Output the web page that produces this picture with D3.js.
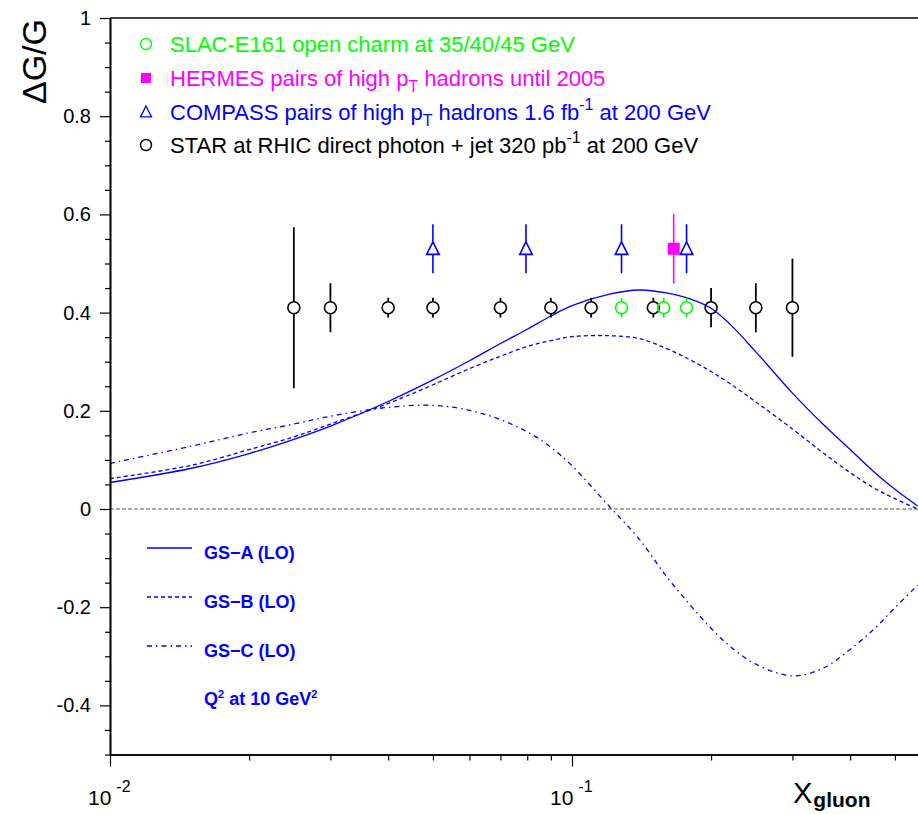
<!DOCTYPE html>
<html><head><meta charset="utf-8">
<script src="https://cdn.jsdelivr.net/npm/d3@7"></script>
<style>
body{margin:0;background:#fff}
svg{display:block;background:#fff}
text{font-family:"Liberation Sans",Arial,Helvetica,sans-serif}
</style>
</head><body>
<svg id="chart" width="918" height="814"></svg>
<script>
// ---------------- data ----------------
const starX   = [0.025, 0.03, 0.04, 0.05, 0.07, 0.09, 0.11, 0.15, 0.2, 0.25, 0.3];
const starY   = [0.41, 0.41, 0.41, 0.41, 0.41, 0.41, 0.41, 0.41, 0.41, 0.41, 0.41];
const starErr = [0.164, 0.05, 0.02, 0.02, 0.02, 0.02, 0.02, 0.02, 0.04, 0.05, 0.10];

const slacX   = [0.128, 0.158, 0.177];
const slacY   = [0.41, 0.41, 0.41];
const slacErr = [0.02, 0.02, 0.02];

const compassX   = [0.05, 0.0795, 0.128, 0.177];
const compassY   = [0.53, 0.53, 0.53, 0.53];
const compassErr = [0.05, 0.05, 0.05, 0.05];

const hermesX   = [0.166];
const hermesY   = [0.53];
const hermesErr = [0.071];

const curveX = [0.01, 0.015, 0.02, 0.025, 0.03, 0.04, 0.05, 0.06, 0.07, 0.08, 0.09, 0.1,
                0.12, 0.14, 0.16, 0.18, 0.2, 0.22, 0.25, 0.3, 0.35, 0.4, 0.45, 0.5, 0.56];
const gsA = [0.054, 0.083, 0.113, 0.142, 0.169, 0.219, 0.263, 0.302, 0.337, 0.366, 0.393, 0.414,
             0.437, 0.446, 0.440, 0.428, 0.409, 0.376, 0.320, 0.236, 0.172, 0.121, 0.076, 0.040, 0.006];
const gsB = [0.062, 0.089, 0.121, 0.147, 0.173, 0.215, 0.253, 0.286, 0.311, 0.331, 0.343, 0.351,
             0.353, 0.347, 0.327, 0.304, 0.280, 0.255, 0.218, 0.163, 0.114, 0.074, 0.043, 0.021, 0.0];
const gsC = [0.093, 0.128, 0.155, 0.173, 0.189, 0.207, 0.211, 0.201, 0.182, 0.157, 0.126, 0.088,
             0.007, -0.062, -0.137, -0.195, -0.243, -0.280, -0.316, -0.340, -0.324, -0.286, -0.245, -0.201, -0.155];

const yMajorTicks = [-0.4, -0.2, 0, 0.2, 0.4, 0.6, 0.8, 1];
const yTickLabels = ["-0.4", "-0.2", "0", "0.2", "0.4", "0.6", "0.8", "1"];
const xMajorTicks = [0.01, 0.1];
const xTickExponents = ["-2", "-1"];
const xMinorTicks = [0.02,0.03,0.04,0.05,0.06,0.07,0.08,0.09,0.2,0.3,0.4,0.5,0.6];

const topLegend = [
  {kind:"circle", color:"#00ff00", parts:[["SLAC-E161 open charm at 35/40/45 GeV",""]]},
  {kind:"square", color:"#ff00ff", parts:[["HERMES pairs of high p",""],["T","sub"],[" hadrons until 2005",""]]},
  {kind:"triangle", color:"#0000ff", parts:[["COMPASS pairs of high p",""],["T","sub"],[" hadrons 1.6 fb",""],["-1","sup"],[" at 200 GeV",""]]},
  {kind:"circle", color:"#000000", parts:[["STAR at RHIC direct photon + jet 320 pb",""],["-1","sup"],[" at 200 GeV",""]]}
];
const curveLegend = [
  {label:"GS\u2212A (LO)", dash:null},
  {label:"GS\u2212B (LO)", dash:"4,3"},
  {label:"GS\u2212C (LO)", dash:"5,4,1.5,4"}
];

// ---------------- layout ----------------
const svg = d3.select("#chart");
const L = 110, T = 18, B = 754.5;
const decade = 462;
const x = d3.scaleLog().domain([0.01, 0.6]).range([L, L + decade * Math.log10(60)]);
const y = d3.scaleLinear().domain([-0.5, 1]).range([B, T]);
const blue = "#0000ff";

svg.append("defs").append("clipPath").attr("id","clip")
  .append("rect").attr("x", L).attr("y", T).attr("width", 918 - L).attr("height", B - T);

// zero line
svg.append("line").attr("x1", L).attr("x2", 918).attr("y1", y(0)).attr("y2", y(0))
  .attr("stroke", "#555").attr("stroke-width", 1.2).attr("stroke-dasharray", "4,2");

// curves
const line = d3.line().x(d => x(d[0])).y(d => y(d[1])).curve(d3.curveCatmullRom.alpha(0.5));
const curves = [[gsA, null], [gsB, "4,3"], [gsC, "5,4,1.5,4"]];
const cg = svg.append("g").attr("clip-path", "url(#clip)");
curves.forEach(([vals, dash]) => {
  cg.append("path").datum(curveX.map((xv, i) => [xv, vals[i]]))
    .attr("d", line).attr("fill", "none").attr("stroke", blue)
    .attr("stroke-width", 1.3).attr("stroke-dasharray", dash);
});

// axes
const ax = svg.append("g").attr("transform", `translate(${L},0)`)
  .call(d3.axisLeft(y).tickValues(yMajorTicks).tickSize(10).tickSizeOuter(0)
    .tickPadding(9).tickFormat((d, i) => yTickLabels[i]));
const yMinor = d3.range(-0.5, 1.0001, 0.05).map(v => +v.toFixed(2)).filter(v => !yMajorTicks.includes(v));
svg.append("g").attr("transform", `translate(${L},0)`)
  .call(d3.axisLeft(y).tickValues(yMinor).tickSize(5).tickSizeOuter(0).tickFormat(""));
svg.append("g").attr("transform", `translate(0,${B})`)
  .call(d3.axisBottom(x).tickValues(xMajorTicks).tickSize(12).tickSizeOuter(0).tickFormat(""));
svg.append("g").attr("transform", `translate(0,${B})`)
  .call(d3.axisBottom(x).tickValues(xMinorTicks).tickSize(6).tickSizeOuter(0).tickFormat(""));
svg.selectAll(".domain").attr("stroke", "#000").attr("stroke-width", 1.6);
svg.selectAll(".tick line").attr("stroke", "#000").attr("stroke-width", 1.2);
ax.selectAll(".tick text").attr("font-size", 20).attr("fill", "#000")
  .attr("font-family", '"Liberation Sans",Arial,sans-serif');
// top frame
svg.append("line").attr("x1", L).attr("x2", 918).attr("y1", T).attr("y2", T)
  .attr("stroke", "#000").attr("stroke-width", 1.6);

// x tick labels 10^n
xMajorTicks.forEach((v, i) => {
  const t = svg.append("text").attr("x", x(v) - 22).attr("y", 805).attr("font-size", 21).attr("fill", "#000");
  t.append("tspan").text("10");
  t.append("tspan").attr("dx", 5).attr("dy", -13).attr("font-size", 16).text(xTickExponents[i]);
});

// axis titles
const xt = svg.append("text").attr("x", 793).attr("y", 803).attr("fill", "#000");
xt.append("tspan").attr("font-size", 29).text("X");
xt.append("tspan").attr("dx", 1).attr("dy", 4).attr("font-size", 21).attr("font-weight", "bold").text("gluon");

svg.append("text").attr("transform", "translate(46,19) rotate(-90)")
  .attr("text-anchor", "end").attr("font-size", 34).attr("fill", "#000").text("\u0394G/G");

// data markers
const R = 6;
function errBar(g, cx, cy, err, color, gapTop, gapBot, w) {
  const yt = y(cy + err), yb = y(cy - err), yc = y(cy);
  if (yc - gapTop > yt) g.append("line").attr("x1", x(cx)).attr("x2", x(cx)).attr("y1", yt).attr("y2", yc - gapTop)
    .attr("stroke", color).attr("stroke-width", w);
  if (yc + gapBot < yb) g.append("line").attr("x1", x(cx)).attr("x2", x(cx)).attr("y1", yc + gapBot).attr("y2", yb)
    .attr("stroke", color).attr("stroke-width", w);
}
const mg = svg.append("g");
starX.forEach((xv, i) => {
  errBar(mg, xv, starY[i], starErr[i], "#000", R, R, 1.8);
  mg.append("circle").attr("cx", x(xv)).attr("cy", y(starY[i])).attr("r", R)
    .attr("fill", "none").attr("stroke", "#000").attr("stroke-width", 1.6);
});
slacX.forEach((xv, i) => {
  errBar(mg, xv, slacY[i], slacErr[i], "#00ff00", R, R, 1.6);
  mg.append("circle").attr("cx", x(xv)).attr("cy", y(slacY[i])).attr("r", R)
    .attr("fill", "none").attr("stroke", "#00ff00").attr("stroke-width", 1.6);
});
hermesX.forEach((xv, i) => {
  errBar(mg, xv, hermesY[i], hermesErr[i], "#ff00ff", 0, 0, 1.6);
  mg.append("rect").attr("x", x(xv) - 6).attr("y", y(hermesY[i]) - 6).attr("width", 12).attr("height", 12)
    .attr("fill", "#ff00ff");
});
const tri = (cx, cy, s) => `M${cx},${cy - s * 0.55} L${cx + s / 2},${cy + s * 0.45} L${cx - s / 2},${cy + s * 0.45} Z`;
compassX.forEach((xv, i) => {
  errBar(mg, xv, compassY[i], compassErr[i], blue, 7, 6, 1.6);
  mg.append("path").attr("d", tri(x(xv), y(compassY[i]), 12.5))
    .attr("fill", "none").attr("stroke", blue).attr("stroke-width", 1.6);
});

// top legend
const rowY = [44, 78, 112, 145];
topLegend.forEach((e, i) => {
  const cy = rowY[i], cx = 146;
  if (e.kind === "circle") svg.append("circle").attr("cx", cx).attr("cy", cy).attr("r", 5.5)
    .attr("fill", "none").attr("stroke", e.color).attr("stroke-width", 1.4);
  if (e.kind === "square") svg.append("rect").attr("x", cx - 5).attr("y", cy - 5).attr("width", 10).attr("height", 10)
    .attr("fill", e.color);
  if (e.kind === "triangle") svg.append("path").attr("d", tri(cx, cy, 11))
    .attr("fill", "none").attr("stroke", e.color).attr("stroke-width", 1.3);
  const t = svg.append("text").attr("x", 170).attr("y", cy + 8).attr("font-size", 22).attr("fill", e.color);
  let shift = 0;
  e.parts.forEach(([s, k]) => {
    const sp = t.append("tspan").text(s);
    if (k === "sub") { sp.attr("dy", 6 - shift).attr("font-size", 16); shift = 6; }
    else if (k === "sup") { sp.attr("dy", -10 - shift).attr("font-size", 16); shift = -10; }
    else { if (shift !== 0) sp.attr("dy", -shift); shift = 0; }
  });
});

// curve legend
const legY = [548, 597, 646];
curveLegend.forEach((e, i) => {
  svg.append("line").attr("x1", 147).attr("x2", 192).attr("y1", legY[i]).attr("y2", legY[i])
    .attr("stroke", blue).attr("stroke-width", 1.3).attr("stroke-dasharray", e.dash);
  svg.append("text").attr("x", 204).attr("y", legY[i] + 11).attr("font-size", 18)
    .attr("font-weight", "bold").attr("fill", blue).text(e.label);
});
const q = svg.append("text").attr("x", 204).attr("y", 705).attr("font-size", 18)
  .attr("font-weight", "bold").attr("fill", blue);
q.append("tspan").text("Q");
q.append("tspan").attr("dy", -7).attr("font-size", 11).text("2");
q.append("tspan").attr("dy", 7).text(" at 10 GeV");
q.append("tspan").attr("dy", -7).attr("font-size", 11).text("2");
</script>
</body></html>
